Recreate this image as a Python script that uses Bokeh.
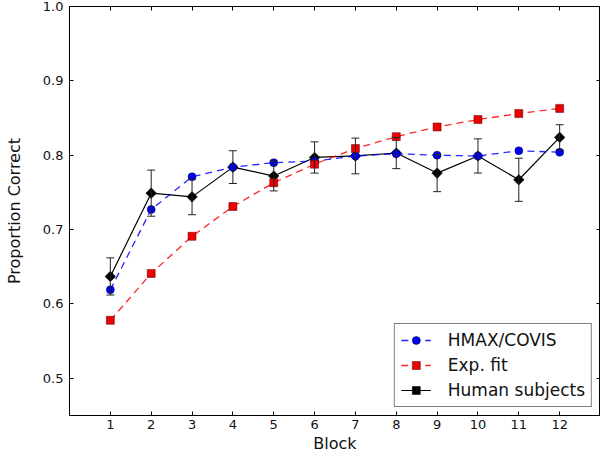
from bokeh.plotting import figure
from bokeh.models import (ColumnDataSource, Whisker, TeeHead, Legend, LegendItem,
                          LinearAxis, FixedTicker, PrintfTickFormatter)
from bokeh.embed import file_html
from bokeh.resources import INLINE

blocks = [1, 2, 3, 4, 5, 6, 7, 8, 9, 10, 11, 12]
hmax = [0.619, 0.727, 0.771, 0.784, 0.790, 0.792, 0.799, 0.802, 0.800, 0.799, 0.806, 0.804]
expfit = [0.578, 0.641, 0.691, 0.731, 0.763, 0.788, 0.809, 0.825, 0.838, 0.848, 0.856, 0.863]
human = [0.637, 0.749, 0.744, 0.784, 0.772, 0.797, 0.799, 0.803, 0.776, 0.799, 0.767, 0.824]
human_err = [0.025, 0.031, 0.024, 0.022, 0.020, 0.021, 0.024, 0.021, 0.025, 0.023, 0.029, 0.017]
y_ticks = [0.5, 0.6, 0.7, 0.8, 0.9, 1.0]

FONT = "DejaVu Sans"

p = figure(width=600, height=455, x_range=(0, 13), y_range=(0.45, 1.0),
           output_backend="svg", toolbar_location=None,
           min_border_left=69, min_border_right=0, min_border_top=6, min_border_bottom=36)
p.grid.visible = False
p.outline_line_color = "black"
p.outline_line_width = 1
p.background_fill_color = "white"
p.border_fill_color = "white"

p.xaxis.ticker = FixedTicker(ticks=blocks)
p.yaxis.ticker = FixedTicker(ticks=y_ticks)
p.yaxis.formatter = PrintfTickFormatter(format="%.1f")
for ax in (p.xaxis[0], p.yaxis[0]):
    ax.major_tick_in = 4
    ax.major_tick_out = 0
    ax.minor_tick_line_color = None
    ax.axis_line_color = "black"
    ax.major_tick_line_color = "black"
    ax.major_label_text_font = FONT
    ax.major_label_text_font_size = "13px"
    ax.major_label_text_color = "#111111"
    ax.axis_label_text_font = FONT
    ax.axis_label_text_font_size = "16px"
    ax.axis_label_text_font_style = "normal"
    ax.axis_label_text_color = "#111111"
p.xaxis.axis_label = "Block"
p.yaxis.axis_label = "Proportion Correct"
p.xaxis.major_label_standoff = 4
p.xaxis.axis_label_standoff = 2
p.yaxis.major_label_standoff = 6
p.yaxis.axis_label_standoff = 16

top = LinearAxis(ticker=FixedTicker(ticks=blocks), major_label_text_font_size="1px",
                 major_label_text_color=None,
                 major_tick_in=4, major_tick_out=0, minor_tick_line_color=None,
                 major_label_standoff=0, axis_line_color="black")
right = LinearAxis(ticker=FixedTicker(ticks=y_ticks), major_label_text_font_size="1px",
                   major_label_text_color=None,
                   major_tick_in=4, major_tick_out=0, minor_tick_line_color=None,
                   major_label_standoff=0, axis_line_color="black")
p.add_layout(top, "above")
p.add_layout(right, "right")

src_h = ColumnDataSource(dict(x=blocks, y=human,
                              upper=[v + e for v, e in zip(human, human_err)],
                              lower=[v - e for v, e in zip(human, human_err)]))
src_b = ColumnDataSource(dict(x=blocks, y=hmax))
src_r = ColumnDataSource(dict(x=blocks, y=expfit))

wh = Whisker(source=src_h, base="x", upper="upper", lower="lower",
             line_color="#222222", line_width=1, level="glyph",
             upper_head=TeeHead(size=8, line_color="#222222", line_width=1),
             lower_head=TeeHead(size=8, line_color="#222222", line_width=1))
p.add_layout(wh)

h_line = p.line("x", "y", source=src_h, line_color="black", line_width=1.2)
h_pts = p.scatter("x", "y", source=src_h, marker="square", angle=0.785398, size=7.5,
                  fill_color="black", line_color="black", line_width=0.5)

b_line = p.line("x", "y", source=src_b, line_color="blue", line_width=1.3,
                line_dash="7 5", line_alpha=0.85)
b_pts = p.scatter("x", "y", source=src_b, marker="circle", size=8,
                  fill_color="#0000ee", line_color="#000055", line_width=0.5)

r_line = p.line("x", "y", source=src_r, line_color="red", line_width=1.3,
                line_dash="7 5", line_alpha=0.85)
r_pts = p.scatter("x", "y", source=src_r, marker="square", size=8,
                  fill_color="#ee0000", line_color="#550000", line_width=0.5)

legend = Legend(items=[
    LegendItem(label="HMAX/COVIS", renderers=[b_line, b_pts]),
    LegendItem(label="Exp. fit", renderers=[r_line, r_pts]),
    LegendItem(label="Human subjects", renderers=[h_line, h_pts]),
], location="bottom_right")
legend.label_text_font = FONT
legend.label_text_font_size = "17px"
legend.label_text_color = "#111111"
legend.border_line_color = "black"
legend.border_line_width = 1
legend.background_fill_color = "white"
legend.background_fill_alpha = 1
legend.glyph_width = 30
legend.glyph_height = 20
legend.spacing = 5
legend.padding = 6
legend.margin = 8
legend.label_standoff = 17
p.add_layout(legend)

open("out.html", "w").write(file_html(p, INLINE))
